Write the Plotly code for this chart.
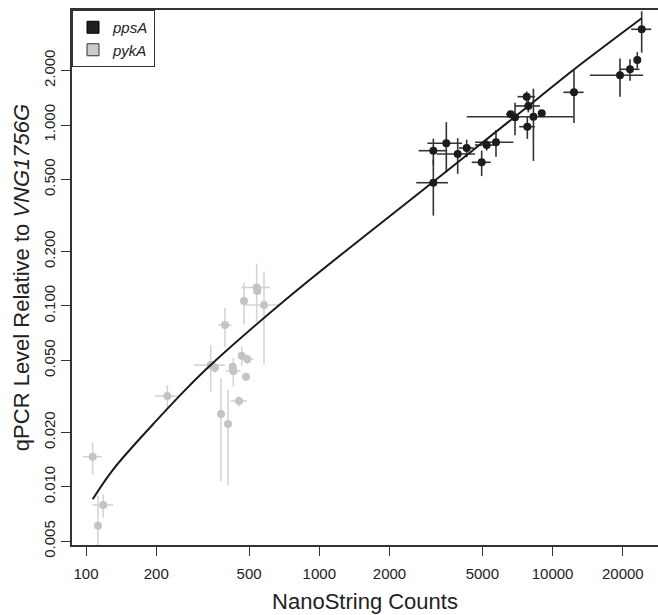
import plotly.graph_objects as go

# ---------------- data ----------------
# pykA (grey)
pyka_x = [106.8, 118.6, 112.6, 223.2, 342.3, 357.2, 394.4, 475.5, 539.1, 542.3,
          579.4, 465.0, 491.4, 425.4, 428.0, 485.1, 452.8, 379.1, 406.2]
pyka_y = [0.01466, 0.00793, 0.0061, 0.03176, 0.04713, 0.04554, 0.0784, 0.1064, 0.1264, 0.1209,
          0.1012, 0.0530, 0.0507, 0.0461, 0.0437, 0.0406, 0.0298, 0.02526, 0.02224]
pyka_xerr = [10, 12, 2, 25, 52, 8, 26, 10, 75, 8,
             94, 8, 32, 6, 31, 5, 37, 6, 6]
pyka_yerr = [0.0029, 0.0012, 0.0028, 0.0047, 0.0137, 0.003, 0.0193, 0.0275, 0.045, 0.005,
             0.0535, 0.0065, 0.003, 0.002, 0.0078, 0.002, 0.002, 0.0145, 0.012]

# ppsA (black)
ppsa_x = [3082, 3082, 3503, 3920, 4283, 4966, 5218, 5720, 6613, 6901,
          8276, 7744, 7868, 7793, 8980, 12350, 19450, 21470, 23070, 24090]
ppsa_y = [0.4797, 0.7211, 0.7921, 0.6914, 0.7463, 0.6219, 0.775, 0.8024, 1.146, 1.103,
          1.111, 1.434, 1.274, 0.9786, 1.161, 1.516, 1.883, 2.032, 2.288, 3.381]
ppsa_xerr = [478, 416, 595, 732, 310, 465, 572, 1070, 300, 300,
             3990, 670, 965, 600, 200, 1230, 5000, 2100, 600, 2390]
ppsa_yerr = [0.164, 0.119, 0.245, 0.154, 0.083, 0.10, 0.053, 0.135, 0.05, 0.224,
             0.478, 0.10, 0.10, 0.14, 0.03, 0.49, 0.45, 0.277, 0.24, 0.87]

# fitted curve
curve_x = [106.8, 130.9, 207.6, 279.1, 342.3, 748.9, 3081, 8831, 12270, 24090]
curve_y = [0.00853, 0.0125, 0.02441, 0.0365, 0.04713, 0.1134, 0.4859, 1.4335, 2.014, 3.889]

x_ticks = [100, 200, 500, 1000, 2000, 5000, 10000, 20000]
x_ticktext = ["100", "200", "500", "1000", "2000", "5000", "10000", "20000"]
y_ticks = [0.005, 0.01, 0.02, 0.05, 0.1, 0.2, 0.5, 1, 2]
y_ticktext = ["0.005", "0.010", "0.020", "0.050", "0.100", "0.200", "0.500", "1.000", "2.000"]

FONT = "Liberation Sans, Arial, Helvetica, sans-serif"

fig = go.Figure()

fig.add_trace(go.Scatter(
    x=pyka_x, y=pyka_y, mode="markers", name="pykA", showlegend=False,
    marker=dict(color="#c4c4c4", size=8),
    error_x=dict(type="data", array=pyka_xerr, color="#d4d4d4", thickness=1.6, width=0),
    error_y=dict(type="data", array=pyka_yerr, color="#d4d4d4", thickness=1.6, width=0),
))

fig.add_trace(go.Scatter(
    x=ppsa_x, y=ppsa_y, mode="markers", name="ppsA", showlegend=False,
    marker=dict(color="#1c1c1c", size=8),
    error_x=dict(type="data", array=ppsa_xerr, color="#333333", thickness=1.6, width=0),
    error_y=dict(type="data", array=ppsa_yerr, color="#333333", thickness=1.6, width=0),
))

fig.add_trace(go.Scatter(
    x=curve_x, y=curve_y, mode="lines", showlegend=False,
    line=dict(color="#1a1a1a", width=2, shape="spline", smoothing=1.0),
    hoverinfo="skip",
))

# legend entries
fig.add_trace(go.Scatter(
    x=[None], y=[None], mode="markers", name="<i>ppsA</i>",
    marker=dict(symbol="square", size=12, color="#231f20", line=dict(color="#000000", width=1)),
))
fig.add_trace(go.Scatter(
    x=[None], y=[None], mode="markers", name="<i>pykA</i>",
    marker=dict(symbol="square", size=12, color="#cbcbcb", line=dict(color="#333333", width=1)),
))

fig.update_layout(
    width=658, height=615,
    margin=dict(l=72, r=0, t=10, b=70, autoexpand=False),
    paper_bgcolor="white", plot_bgcolor="white",
    font=dict(family=FONT, color="#222222"),
    showlegend=True,
    legend=dict(
        x=0, y=1, xanchor="left", yanchor="top",
        bgcolor="white", bordercolor="#333333", borderwidth=1,
        font=dict(family=FONT, size=15, color="#222222"),
        tracegroupgap=0,
    ),
    xaxis=dict(
        type="log", range=[1.94, 4.4518], automargin=False,
        tickmode="array", tickvals=x_ticks, ticktext=x_ticktext,
        ticks="outside", ticklen=9, tickwidth=1, tickcolor="#333333",
        ticklabelstandoff=5,
        tickfont=dict(family=FONT, size=15, color="#222222"),
        showline=True, linecolor="#333333", linewidth=1.5, mirror=True,
        showgrid=False, zeroline=False,
        title=dict(text="NanoString Counts", font=dict(family=FONT, size=22, color="#222222"), standoff=13),
    ),
    yaxis=dict(
        type="log", range=[-2.3217, 0.6357], automargin=False,
        tickmode="array", tickvals=y_ticks, ticktext=y_ticktext,
        ticks="outside", ticklen=9, tickwidth=1, tickcolor="#333333", tickangle=-90,
        tickfont=dict(family=FONT, size=15, color="#222222"),
        showline=True, linecolor="#333333", linewidth=1.5,
        showgrid=False, zeroline=False,
        title=dict(text="qPCR Level Relative to <i>VNG1756G</i>",
                   font=dict(family=FONT, size=22, color="#222222"), standoff=6),
    ),
)

fig.write_html(
    "out.html",
    config={"displayModeBar": False},
    post_script="document.body.style.margin='0';document.body.style.overflow='hidden';",
)
